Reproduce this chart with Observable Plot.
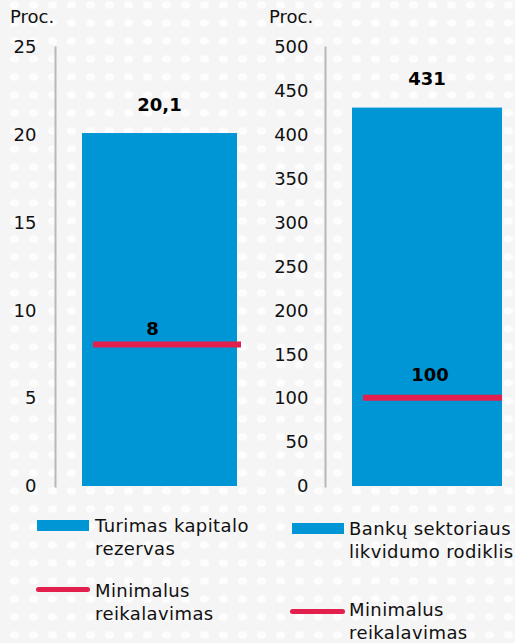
<!DOCTYPE html>
<html>
<head>
<meta charset="utf-8">
<script src="https://cdn.jsdelivr.net/npm/d3@7"></script>
<script src="https://cdn.jsdelivr.net/npm/@observablehq/plot@0.6"></script>
<style>
  html, body { margin: 0; padding: 0; }
  body {
    width: 515px; height: 643px; overflow: hidden;
    background-color: #f5f5f5;
    background-image: radial-gradient(ellipse 5px 4px at center, #fdfdfd 85%, rgba(253,253,253,0) 100%);
    background-size: 19px 18px;
    background-position: 5px -4px;
    font-family: "DejaVu Sans", Verdana, sans-serif;
    color: #111;
  }
  #wrap { position: relative; width: 515px; height: 643px; }
  .abs { position: absolute; }
  .txt { font-size: 18px; line-height: 23px; white-space: nowrap; }
  .leg { letter-spacing: 0.4px; }
  .sw { position: absolute; background: #0096d6; }
  .ln { position: absolute; background: #e31f4d; border-radius: 3px; }
</style>
</head>
<body>
<div id="wrap"></div>
<script>
// ---- data ----
const leftCategory = ["Turimas kapitalo rezervas"];
const leftValues = [20.1];
const leftMinimum = [8];
const leftTicks = [0, 5, 10, 15, 20, 25];

const rightCategory = ["Bankų sektoriaus likvidumo rodiklis"];
const rightValues = [431];
const rightMinimum = [100];
const rightTicks = [0, 50, 100, 150, 200, 250, 300, 350, 400, 450, 500];

const axisTitle = "Proc.";
const legendLeft = [["Turimas kapitalo", "rezervas"], ["Minimalus", "reikalavimas"]];
const legendRight = [["Bankų sektoriaus", "likvidumo rodiklis"], ["Minimalus", "reikalavimas"]];

const BLUE = "#0096d6";
const RED = "#e31f4d";
const fmt = d => String(d).replace(".", ",");

function panel(cfg) {
  const data = cfg.cats.map((c, i) => ({cat: c, value: cfg.values[i], min: cfg.mins[i]}));
  return Plot.plot({
    width: cfg.width,
    height: 500,
    marginTop: 47,
    marginBottom: 14,
    marginLeft: cfg.marginLeft,
    marginRight: cfg.marginRight,
    style: {background: "transparent", fontFamily: "DejaVu Sans, Verdana, sans-serif", fontSize: "18px", color: "#111"},
    x: {domain: cfg.cats, padding: 0, axis: null},
    y: {domain: [0, cfg.ticks[cfg.ticks.length - 1]], axis: null},
    marks: [
      Plot.axisY({ticks: cfg.ticks, tickSize: 0, tickPadding: cfg.tickPadding, label: null, fontSize: 18, tickFormat: fmt}),
      Plot.barY(data, {x: "cat", y: "value", fill: BLUE, insetLeft: 27, insetRight: cfg.barInsetRight}),
      Plot.tickY(data, {x: "cat", y: "min", stroke: RED, strokeWidth: 6, insetLeft: 38, insetRight: cfg.tickInsetRight, dy: cfg.tickDy}),
      Plot.text(data, {x: "cat", y: "value", text: d => fmt(d.value), fontWeight: "bold", fontSize: 18, fill: "#000", dy: cfg.valueDy, dx: cfg.valueDx}),
      Plot.text(data, {x: "cat", y: "min", text: d => fmt(d.min), fontWeight: "bold", fontSize: 18, fill: "#000", dy: cfg.minDy, dx: cfg.minDx}),
      Plot.frame({anchor: "left", stroke: "#b8b8b8", strokeWidth: 2})
    ]
  });
}

const wrap = document.getElementById("wrap");

const left = panel({
  cats: leftCategory, values: leftValues, mins: leftMinimum, ticks: leftTicks,
  width: 257, marginLeft: 55, marginRight: 2, tickPadding: 19,
  barInsetRight: 18, tickInsetRight: 14, tickDy: -1.5,
  valueDy: -28, valueDx: 4, minDy: -17, minDx: -3
});
left.style.position = "absolute"; left.style.left = "0px"; left.style.top = "0px";
wrap.appendChild(left);

const right = panel({
  cats: rightCategory, values: rightValues, mins: rightMinimum, ticks: rightTicks,
  width: 258, marginLeft: 68, marginRight: 3, tickPadding: 17,
  barInsetRight: 10, tickInsetRight: 10, tickDy: -1,
  valueDy: -29, valueDx: 8, minDy: -23, minDx: 11
});
right.style.position = "absolute"; right.style.left = "257px"; right.style.top = "0px";
wrap.appendChild(right);

function addText(lines, x, y, cls) {
  const d = document.createElement("div");
  d.className = "abs txt" + (cls ? " " + cls : "");
  d.style.left = x + "px"; d.style.top = y + "px";
  d.innerHTML = lines.map(s => `<div>${s}</div>`).join("");
  wrap.appendChild(d);
}
function addBox(cls, x, y, w, h) {
  const d = document.createElement("div");
  d.className = cls;
  d.style.left = x + "px"; d.style.top = y + "px";
  d.style.width = w + "px"; d.style.height = h + "px";
  wrap.appendChild(d);
}

// axis titles
addText([axisTitle], 10, 5);
addText([axisTitle], 269, 5);

// legends
addBox("sw", 37, 520, 52, 11);
addText(legendLeft[0], 95, 514, "leg");
addBox("ln", 36, 587, 54, 5);
addText(legendLeft[1], 95, 579, "leg");

addBox("sw", 292, 523, 52, 11);
addText(legendRight[0], 349, 517, "leg");
addBox("ln", 290, 609, 55, 5);
addText(legendRight[1], 349, 598, "leg");
</script>
</body>
</html>
